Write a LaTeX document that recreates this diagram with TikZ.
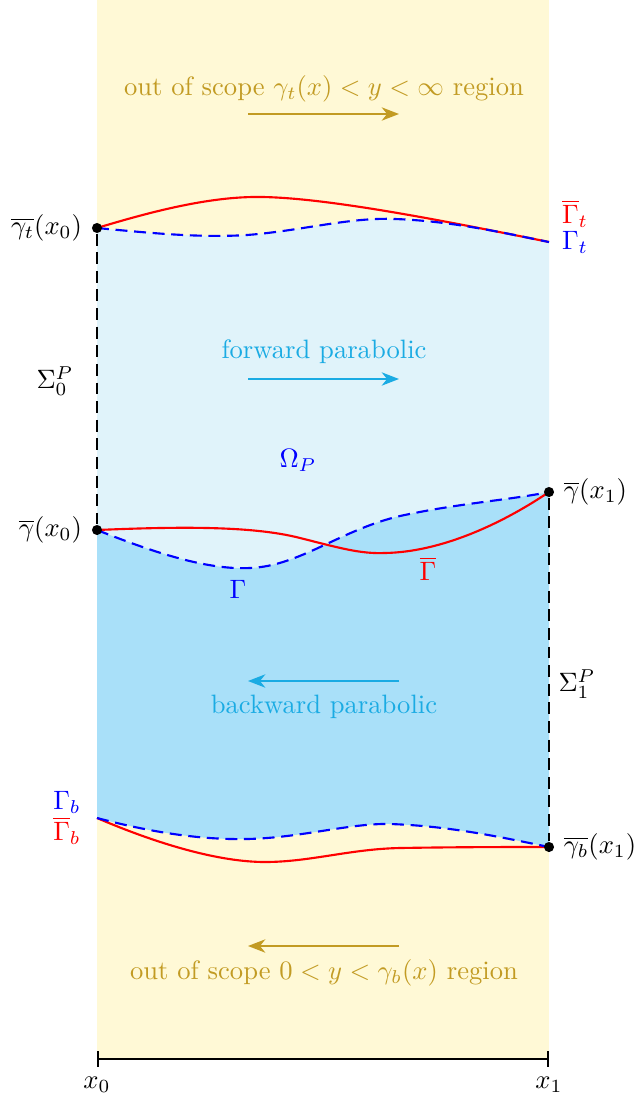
\documentclass[tikz,border=0pt]{standalone}
\usepackage{tikz}
\usetikzlibrary{positioning, arrows.meta}

\definecolor{bandyellow}{RGB}{255,249,214}
\definecolor{fwdfill}{RGB}{224,243,250}
\definecolor{bwdfill}{RGB}{169,224,249}
\definecolor{scopecol}{RGB}{194,155,35}
\definecolor{paracol}{RGB}{26,171,227}

\begin{document}
\begin{tikzpicture}[
  x=0.376pt, y=-0.376pt,
  realbd/.style={thick, red},
  freebd/.style={thick, blue, dash pattern=on 4.5pt off 2.5pt},
  sig/.style={black, dash pattern=on 4.5pt off 2.5pt, thick},
  dot/.style={circle, fill=black, inner sep=0pt, minimum size=3.8pt},
  flow/.style={thick, -{Stealth[length=6.5pt, width=5pt, inset=2pt]}},
  scopetxt/.style={text=scopecol},
  paratxt/.style={text=paracol}
]
\useasboundingbox (0,0) rectangle (637,1106);

% out of scope band
\fill[bandyellow] (97,0) rectangle (549,1059);

% forward region (between Gamma_t and Gamma)
\fill[fwdfill] (97,228) .. controls (150,233) and (200,238) .. (247,235)
  .. controls (300,231) and (350,217) .. (395,219)
  .. controls (450,221) and (500,232) .. (549,242)
  -- (549,492)
  .. controls (510,500) and (460,503) .. (400,516)
  .. controls (340,530) and (300,566) .. (250,568)
  .. controls (210,570) and (160,555) .. (97,530) -- cycle;

% backward region (between Gamma and Gamma_b)
\fill[bwdfill] (97,530) .. controls (160,555) and (210,570) .. (250,568)
  .. controls (300,566) and (340,530) .. (400,516)
  .. controls (460,503) and (510,500) .. (549,492)
  -- (549,847)
  .. controls (500,837) and (450,826) .. (390,824)
  .. controls (350,823) and (300,838) .. (247,839)
  .. controls (200,840) and (150,832) .. (97,818) -- cycle;

% top: Gamma_t and Gammabar_t
\draw[realbd] (97,228) .. controls (150,212) and (210,196) .. (262,197)
  .. controls (330,198) and (450,222) .. (549,242);
\draw[freebd] (97,228) .. controls (150,233) and (200,238) .. (247,235)
  .. controls (300,231) and (350,217) .. (395,219)
  .. controls (450,221) and (500,232) .. (549,242);

% middle: Gamma and Gammabar
\draw[realbd] (97,530) .. controls (170,527) and (250,525) .. (300,538)
  .. controls (340,548) and (360,554) .. (385,553)
  .. controls (440,552) and (500,525) .. (549,492);
\draw[freebd] (97,530) .. controls (160,555) and (210,570) .. (250,568)
  .. controls (300,566) and (340,530) .. (400,516)
  .. controls (460,503) and (510,500) .. (549,492);

% bottom: Gamma_b and Gammabar_b
\draw[realbd] (97,818) .. controls (160,845) and (220,862) .. (265,862)
  .. controls (310,862) and (350,849) .. (400,848)
  .. controls (460,847) and (510,847) .. (549,847);
\draw[freebd] (97,818) .. controls (150,832) and (200,840) .. (247,839)
  .. controls (300,838) and (350,823) .. (390,824)
  .. controls (450,826) and (500,837) .. (549,847);

% corner points
\node[dot] (gt0) at (97,228) {};
\node[dot] (g0)  at (97,530) {};
\node[dot] (g1)  at (549,492) {};
\node[dot] (gb1) at (549,847) {};

% lateral boundaries
\draw[sig] (gt0) -- (g0);
\draw[sig] (g1) -- (gb1);

% point labels
\node[left=0pt of gt0]  (lgt0) {$\overline{\gamma_t}(x_0)$};
\node[left=0pt of g0]   (lg0)  {$\overline{\gamma}(x_0)$};
\node[right=0pt of g1]  (lg1)  {$\overline{\gamma}(x_1)$};
\node[right=0pt of gb1] (lgb1) {$\overline{\gamma_b}(x_1)$};
\node (sig0) at (55,381) {$\Sigma_0^P$};
\node (sig1) at (577,684) {$\Sigma_1^P$};

% curve labels
\node[text=red]  (lGbt) at (575,214) {$\overline{\Gamma}_t$};
\node[text=blue] (lGt)  at (575,242) {$\Gamma_t$};
\node[text=blue] (lG)   at (238,589) {$\Gamma$};
\node[text=red]  (lGb)  at (428,569) {$\overline{\Gamma}$};
\node[text=blue] (lGbb) at (67,802) {$\Gamma_b$};
\node[text=red]  (lGbbb) at (67,831) {$\overline{\Gamma}_b$};
\node[text=blue] (omega) at (298,460) {$\Omega_P$};

% region texts and flow directions
\node[scopetxt] (topscope) at (324,89) {out of scope $\gamma_t(x)<y<\infty$ region};
\coordinate (ta) at (248,114);
\coordinate (tb) at (399,114);
\draw[flow, scopecol] (ta) -- (tb);

\node[paratxt] (fwd) at (324,352) {forward parabolic};
\coordinate (fa) at (248,379);
\coordinate (fb) at (399,379);
\draw[flow, paracol] (fa) -- (fb);

\coordinate (ba) at (399,681);
\coordinate (bb) at (248,681);
\draw[flow, paracol] (ba) -- (bb);
\node[paratxt] (bwd) at (324,707) {backward parabolic};

\coordinate (sa) at (399,946);
\coordinate (sb) at (248,946);
\draw[flow, scopecol] (sa) -- (sb);
\node[scopetxt] (botscope) at (324,973) {out of scope $0<y<\gamma_b(x)$ region};

% x axis
\coordinate (ax0) at (97,1059);
\coordinate (ax1) at (549,1059);
\draw[thick, {Bar[width=6pt]}-{Bar[width=6pt]}] (ax0) -- (ax1);
\node (lx0) at (97,1085) {$x_0$};
\node (lx1) at (549,1085) {$x_1$};

\end{tikzpicture}
\end{document}
